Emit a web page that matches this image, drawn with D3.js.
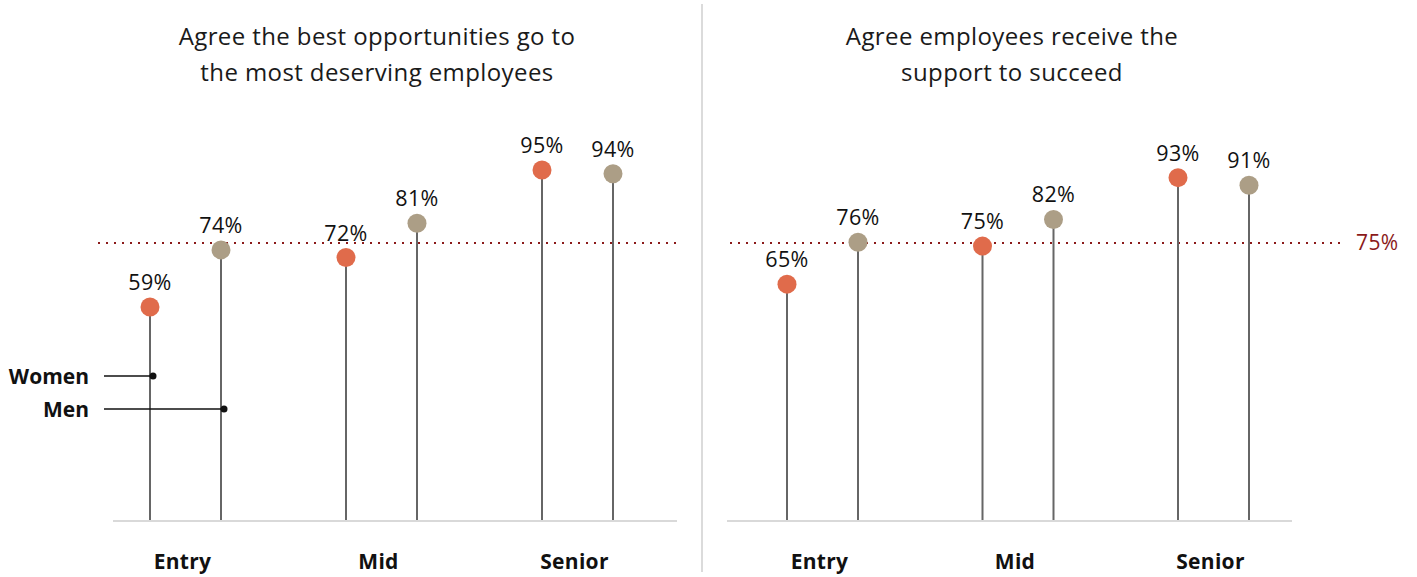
<!DOCTYPE html>
<html>
<head>
<meta charset="utf-8">
<script src="https://cdn.jsdelivr.net/npm/d3@7"></script>
<style>
  html, body { margin: 0; padding: 0; background: #fff; }
  svg { display: block; }
  text { font-family: "Open Sans", "Lato", sans-serif; }
</style>
</head>
<body>
<svg id="chart" width="1417" height="577"></svg>
<script>
// ---- data ----
const categories = ["Entry", "Mid", "Senior"];
const seriesNames = ["Women", "Men"];
const titles = [
  ["Agree the best opportunities go to", "the most deserving employees"],
  ["Agree employees receive the", "support to succeed"]
];
const opportunitiesWomen = [59, 72, 95];
const opportunitiesMen = [74, 81, 94];
const supportWomen = [65, 75, 93];
const supportMen = [76, 82, 91];
const referenceValue = 75;
const referenceLabel = "75%";

const panels = [
  { title: titles[0], women: opportunitiesWomen, men: opportunitiesMen,
    range: [185.5, 577.5], base: [113, 677], ref: [98, 677], legend: true, refLabel: false, titleX: 377 },
  { title: titles[1], women: supportWomen, men: supportMen,
    range: [822.5, 1213.5], base: [727, 1292], ref: [730, 1345], legend: false, refLabel: true, titleX: 1012 }
];

const colors = { Women: "#E06B4B", Men: "#AC9E86" };
const svg = d3.select("#chart");

const y = d3.scaleLinear().domain([3, 100]).range([520, 151]);
const offset = 35.5;

// divider
svg.append("line").attr("x1", 702).attr("x2", 702).attr("y1", 4).attr("y2", 572)
  .attr("stroke", "#cfcfcf").attr("stroke-width", 1.5);

panels.forEach(p => {
  const g = svg.append("g");
  const x = d3.scalePoint().domain(categories).range(p.range);

  // title
  const t = g.append("text").attr("x", p.titleX).attr("y", 45)
    .attr("text-anchor", "middle").attr("font-size", 24).attr("letter-spacing", 0.4)
    .attr("fill", "#1a1a1a");
  p.title.forEach((line, i) => {
    t.append("tspan").attr("x", p.titleX).attr("dy", i === 0 ? 0 : 35.5).text(line);
  });

  // baseline
  g.append("line").attr("x1", p.base[0]).attr("x2", p.base[1])
    .attr("y1", y(3) + 1).attr("y2", y(3) + 1)
    .attr("stroke", "#cccccc").attr("stroke-width", 1.5);

  // reference line
  g.append("line").attr("x1", p.ref[0]).attr("x2", p.ref[1])
    .attr("y1", y(referenceValue) - 3).attr("y2", y(referenceValue) - 3)
    .attr("stroke", "#8B1A1A").attr("stroke-width", 2)
    .attr("stroke-dasharray", "2,6");
  if (p.refLabel) {
    g.append("text").attr("x", p.ref[1] + 11).attr("y", y(referenceValue) + 4)
      .attr("font-size", 21).attr("letter-spacing", 0.4)
      .attr("fill", "#8B1A1A").text(referenceLabel);
  }

  const rows = [];
  categories.forEach((c, i) => {
    rows.push({ cat: c, series: "Women", v: p.women[i], cx: x(c) - offset });
    rows.push({ cat: c, series: "Men", v: p.men[i], cx: x(c) + offset });
  });

  // stems
  g.selectAll(".stem").data(rows).enter().append("line")
    .attr("x1", d => d.cx).attr("x2", d => d.cx)
    .attr("y1", y(3)).attr("y2", d => y(d.v))
    .attr("stroke", "#666").attr("stroke-width", 2);

  // dots
  g.selectAll(".dot").data(rows).enter().append("circle")
    .attr("cx", d => d.cx).attr("cy", d => y(d.v)).attr("r", 9.5)
    .attr("fill", d => colors[d.series]);

  // value labels
  g.selectAll(".val").data(rows).enter().append("text")
    .attr("x", d => d.cx).attr("y", d => y(d.v) - 17)
    .attr("text-anchor", "middle").attr("font-size", 21.5).attr("letter-spacing", 0.4)
    .attr("fill", "#111")
    .text(d => d.v + "%");

  // category labels
  g.selectAll(".cat").data(categories).enter().append("text")
    .attr("x", d => x(d) - 3).attr("y", 569)
    .attr("text-anchor", "middle").attr("font-size", 21).attr("font-weight", "bold")
    .attr("letter-spacing", 0.3)
    .attr("fill", "#111").text(d => d);

  // legend annotations
  if (p.legend) {
    const c0 = categories[0];
    const leg = [
      { name: seriesNames[0], cx: x(c0) - offset + 3, ly: 376 },
      { name: seriesNames[1], cx: x(c0) + offset + 3, ly: 409 }
    ];
    leg.forEach(l => {
      g.append("line").attr("x1", 104).attr("x2", l.cx).attr("y1", l.ly).attr("y2", l.ly)
        .attr("stroke", "#111").attr("stroke-width", 1.5);
      g.append("circle").attr("cx", l.cx).attr("cy", l.ly).attr("r", 3.5).attr("fill", "#111");
      g.append("text").attr("x", 89).attr("y", l.ly + 8).attr("text-anchor", "end")
        .attr("font-size", 21).attr("font-weight", "bold").attr("fill", "#111").text(l.name);
    });
  }
});
</script>
</body>
</html>
